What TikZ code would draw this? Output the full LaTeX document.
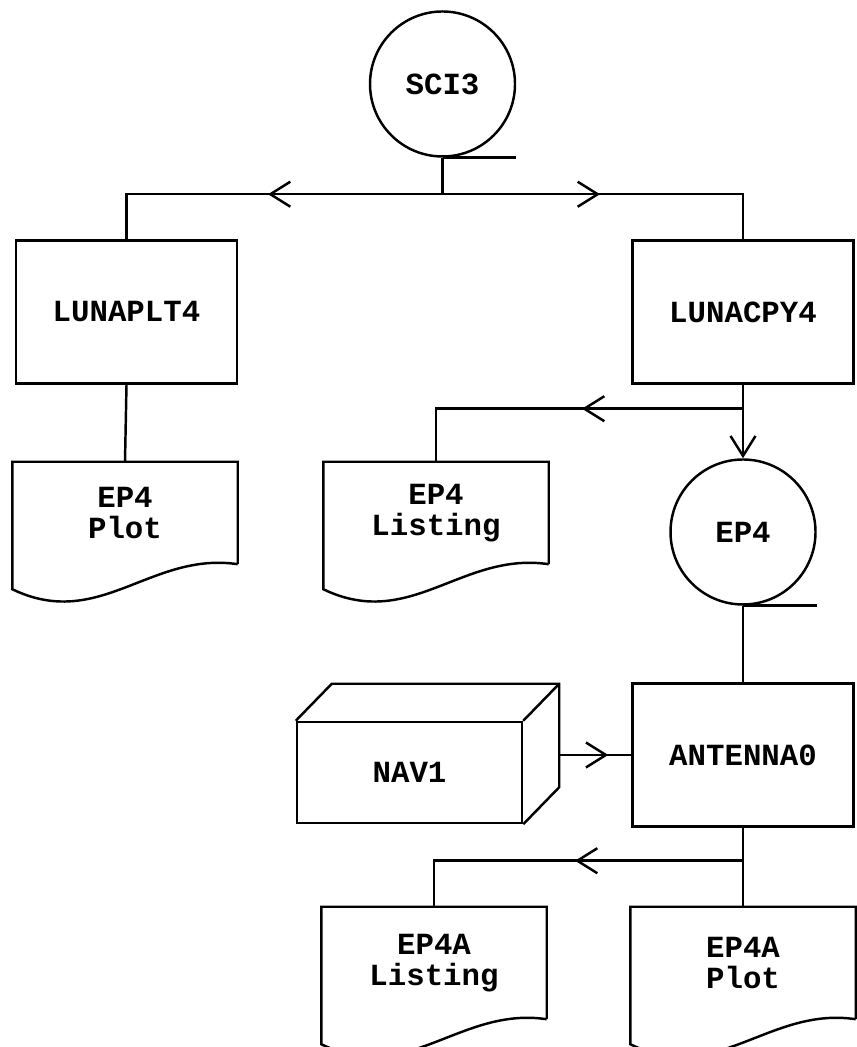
\documentclass[tikz,border=0pt]{standalone}
\usepackage{fontspec}
\setmonofont{Liberation Mono}
\usetikzlibrary{arrows.meta,calc,decorations.markings}

\tikzset{
  prog/.style={draw,minimum width=4.42cm,minimum height=2.86cm},
  store/.style={draw,circle,minimum size=2.9cm},
  docu/.style={minimum width=4.46cm,minimum height=2cm,align=center},
  tipat/.style={postaction={decorate},decoration={markings,mark=at position #1 with {\arrow{Straight Barb[length=4mm,width=5mm]}}}},
}

\begin{document}
\begin{tikzpicture}[x=1cm,y=1cm,line width=1.4pt,every node/.style={font=\ttfamily\bfseries\fontsize{17.5}{18}\selectfont},flow/.style={-{Straight Barb[length=4mm,width=5mm]}}]
\path[use as bounding box] (0,0) rectangle (17.12,20.94);

\node[store] (sci) at (8.85,19.26) {SCI3};
\node[prog] (plt) at (2.53,14.70) {LUNAPLT4};
\node[prog] (cpy) at (14.86,14.70) {LUNACPY4};
\node[docu] (plotA) at (2.50,10.68) {EP4\\Plot};
\node[docu] (listA) at (8.72,10.68) {EP4\\Listing};
\node[store] (ep) at (14.86,10.30) {EP4};
\node[prog] (ant) at (14.86,5.84) {ANTENNA0};
\node[draw,minimum width=4.5cm,minimum height=2.02cm] (nav) at (8.19,5.49) {NAV1};
\node[docu,minimum height=2.2cm] (listB) at (8.68,1.68) {EP4A\\Listing};
\node[docu,minimum height=2.2cm] (plotB) at (14.86,1.68) {EP4A\\Plot};

% printout outlines with the wavy bottom edge
\foreach \d in {plotA,listA,listB,plotB}
  \draw (\d.south east) -- (\d.north east) -- (\d.north west) -- ($(\d.south west)+(0,-0.5)$) .. controls ($(\d.south west)+(1.74,-1.34)$) and ($(\d.south east)+(-1.74,0.26)$) .. (\d.south east);

% tape marks under the circles
\foreach \c in {sci,ep}
  \draw (\c.south) -- (\c.south -| \c.east);

% depth of the NAV1 box
\draw (nav.north west) -- ++(0.72,0.74) -- ($(nav.north east)+(0.72,0.74)$) -- ($(nav.south east)+(0.72,0.74)$) -- (nav.south east) (nav.north east) -- ++(0.72,0.74);

\coordinate (split) at ($(sci.south)+(0,-0.73)$);
\draw (sci.south) -- (split);
\draw[tipat=3.49cm] (split) -- (split -| plt.north) -- (plt.north);
\draw[tipat=3.15cm] (split) -- (split -| cpy.north) -- (cpy.north);
\draw (plt.south) -- (plotA.north);

\coordinate (br1) at ($(cpy.south)+(0,-0.48)$);
\draw[flow] (cpy.south) -- (ep.north);
\draw[tipat=3.22cm] (br1) -- (br1 -| listA.north) -- (listA.north);
\draw (ep.south) -- (ant.north);

\coordinate (navback) at ($(nav.east)+(0.72,0)$);
\draw[tipat=0.98cm] (navback |- ant.west) -- (ant.west);

\coordinate (br2) at ($(ant.south)+(0,-0.66)$);
\draw (ant.south) -- (plotB.north);
\draw[tipat=3.36cm] (br2) -- (br2 -| listB.north) -- (listB.north);

\end{tikzpicture}
\end{document}
